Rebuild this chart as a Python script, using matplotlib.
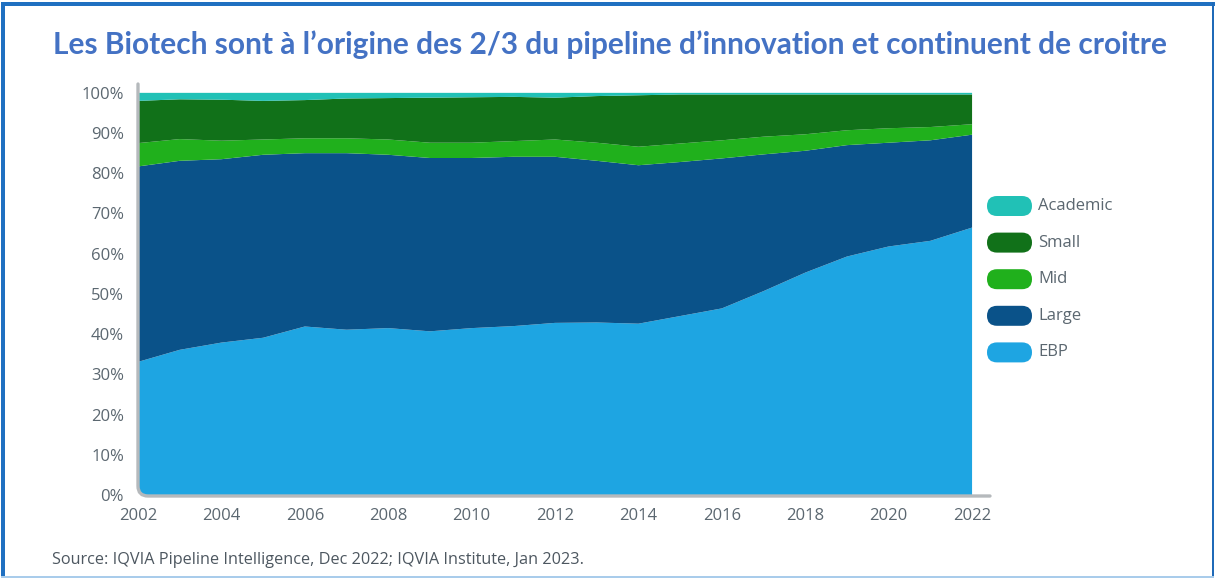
import matplotlib
matplotlib.use("Agg")
import matplotlib.pyplot as plt
from matplotlib.patches import FancyBboxPatch, Rectangle, PathPatch
from matplotlib.path import Path
from matplotlib.ticker import FuncFormatter

years = list(range(2002, 2023))
# cumulative boundaries (% of pipeline)
ebp = [33.1, 36.1, 37.9, 39.1, 41.9, 41.1, 41.5, 40.7, 41.5, 42.0, 42.8,
       42.9, 42.6, 44.5, 46.4, 50.7, 55.3, 59.3, 61.8, 63.2, 66.5]
large_top = [81.7, 83.1, 83.5, 84.6, 85.0, 85.0, 84.6, 83.8, 83.8, 84.1, 84.1,
             83.1, 82.0, 82.8, 83.7, 84.7, 85.6, 87.0, 87.6, 88.2, 89.6]
mid_top = [87.5, 88.5, 88.1, 88.4, 88.7, 88.7, 88.4, 87.6, 87.6, 88.0, 88.4,
           87.6, 86.6, 87.4, 88.2, 89.1, 89.7, 90.7, 91.2, 91.5, 92.2]
small_top = [98.0, 98.4, 98.3, 98.0, 98.2, 98.6, 98.7, 98.8, 98.9, 99.0, 98.8,
             99.2, 99.4, 99.6, 99.6, 99.6, 99.6, 99.6, 99.6, 99.6, 99.6]

large = [b - a for a, b in zip(ebp, large_top)]
mid = [b - a for a, b in zip(large_top, mid_top)]
small = [b - a for a, b in zip(mid_top, small_top)]
academic = [100 - a for a in small_top]

series_names = ["EBP", "Large", "Mid", "Small", "Academic"]
series_values = [ebp, large, mid, small, academic]
colors = ["#1EA5E2", "#0A5289", "#20B01C", "#117119", "#21C1B6"]

x_ticks = list(range(2002, 2023, 2))
y_ticks = list(range(0, 101, 10))

title = "Les Biotech sont à l’origine des 2/3 du pipeline d’innovation et continuent de croitre"
source = "Source: IQVIA Pipeline Intelligence, Dec 2022; IQVIA Institute, Jan 2023."

W, H = 1216, 579
fig = plt.figure(figsize=(W / 100, H / 100), dpi=100)
fig.patch.set_facecolor("white")

# pixel-coordinate overlay for decorations
ov = fig.add_axes([0, 0, 1, 1], zorder=5)
ov.set_xlim(0, W)
ov.set_ylim(H, 0)
ov.axis("off")
ov.patch.set_alpha(0)

ax = fig.add_axes([138 / W, 1 - 495 / H, 852 / W, 411 / H], zorder=2)
polys = ax.stackplot(years, *series_values, colors=colors, linewidth=0)
ax.set_xlim(2002, 2022.43)
ax.set_ylim(0, 102.2)
ax.set_xticks(x_ticks)
ax.set_yticks(y_ticks)
ax.yaxis.set_major_formatter(FuncFormatter(lambda v, p: f"{int(v)}%"))
tick_color = "#5B6770"
ax.tick_params(axis="both", length=0, colors=tick_color, labelsize=12)
ax.tick_params(axis="y", pad=10)
ax.tick_params(axis="x", pad=9)
for lab in ax.get_xticklabels() + ax.get_yticklabels():
    lab.set_fontfamily("Open Sans")
for s in ax.spines.values():
    s.set_visible(False)

# rounded clip for the fill (bottom-left corner)
clip = FancyBboxPatch((138, 40), 900, 455, boxstyle="round,pad=0,rounding_size=9",
                      transform=ov.transData, facecolor="none", edgecolor="none")
for p in polys:
    p.set_clip_path(clip)

# axis line with rounded corner
r = 10
verts = [(138, 84), (138, 496 - r), (138, 496), (138 + r, 496), (990, 496)]
codes = [Path.MOVETO, Path.LINETO, Path.CURVE3, Path.CURVE3, Path.LINETO]
ov.add_patch(PathPatch(Path(verts, codes), facecolor="none", edgecolor="#B5B9BC",
                       linewidth=2.4, capstyle="round"))

# legend (pill handles)
legend_items = list(zip(series_names, colors))[::-1]
for i, (name, col) in enumerate(legend_items):
    cy = 206 + i * 36.6
    ov.add_patch(FancyBboxPatch((987, cy - 10), 45, 20,
                                boxstyle="round,pad=0,rounding_size=10",
                                facecolor=col, edgecolor="none"))
    ov.text(1038, cy, name, fontsize=12, color=tick_color,
            fontfamily="Open Sans", va="center", ha="left")

ov.text(610, 45, title, fontsize=21.5, fontweight="bold",
        color="#4472C4", fontfamily="Lato", ha="center", va="center")
ov.text(52, 560, source, fontsize=11.7, color="#4D5760",
        fontfamily="Open Sans", ha="left", va="center")

# frame
ov.add_patch(Rectangle((1, 2), 4, 575, facecolor="#1F70C1", edgecolor="none"))
ov.add_patch(Rectangle((1, 2), 1214, 4, facecolor="#1F70C1", edgecolor="none"))
ov.add_patch(Rectangle((1212, 2), 2, 575, facecolor="#1F6AB8", edgecolor="none"))
ov.add_patch(Rectangle((1, 576), 1213, 2, facecolor="#A9CCEB", edgecolor="none"))

fig.savefig("out.png", dpi=100, facecolor="white")
